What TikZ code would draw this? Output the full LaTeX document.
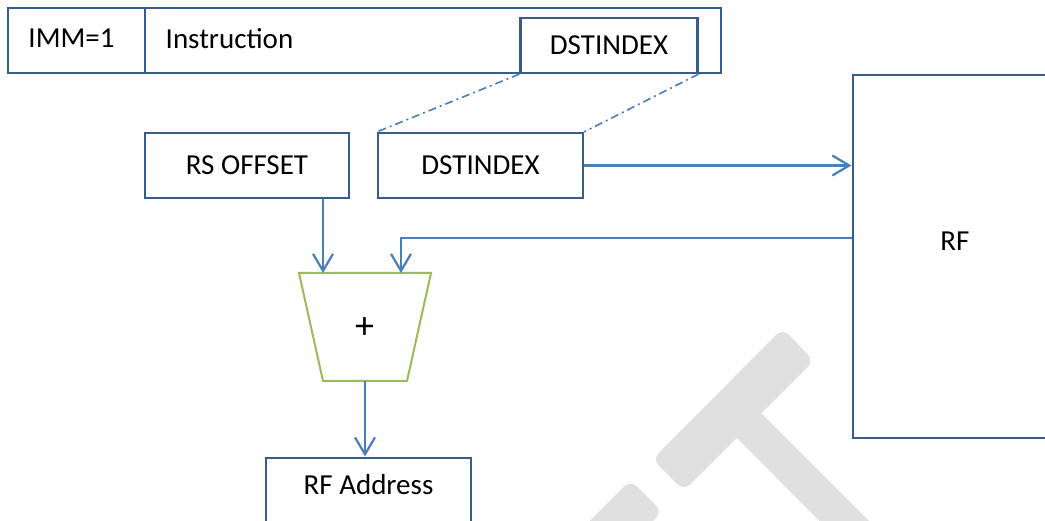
\documentclass[tikz,border=0pt]{standalone}
\usepackage{fontspec}
\setmainfont{Carlito}
\usetikzlibrary{arrows.meta,calc}
\definecolor{boxblue}{RGB}{56,93,138}
\definecolor{arrblue}{RGB}{74,126,187}
\definecolor{addgreen}{RGB}{155,187,89}
\definecolor{wmgray}{RGB}{224,224,224}
\tikzset{
  boxnode/.style={draw=boxblue, line width=2.2pt, fill=white, inner sep=0pt, rectangle},
  txt/.style={inner sep=0pt, font=\fontsize{29}{35}\selectfont},
  arr/.style={draw=arrblue, line width=2.2pt, -{Straight Barb[length=17pt,width=20pt,line width=2.2pt]}},
  dashdotline/.style={draw=arrblue, line width=1.6pt, dash pattern=on 8pt off 4pt on 2pt off 4pt},
  wm/.style={fill=wmgray, draw=none, rounded corners=9pt}
}
\begin{document}
\begin{tikzpicture}[x=1pt,y=-1pt]
\useasboundingbox (0,0) rectangle (1045,521);
\clip (0,0) rectangle (1045,521);
\fill[white] (0,0) rectangle (1045,521);
% watermark
\fill[wm] (782.7,328.3) -- (814,361) -- (684,490.7) -- (652.3,459.3) -- cycle;
\fill[wmgray] (752,404) -- (888,540) -- (838.4,540) -- (728,429) -- cycle;
\fill[wm] (630.7,480) -- (662.3,511.7) -- (614,560) -- (550.7,560) -- cycle;
% instruction word
\node[boxnode, minimum width=713, minimum height=65] (instr) at (364.5,40.5) {};
\node[boxnode, minimum width=137, minimum height=65] (imm) at (76.5,40.5) {};
\node[txt] (immtxt) at (71.5,38.5) {IMM=1};
\node[txt, anchor=west] (instrtxt) at (165.5,38.5) {Instruction};
\node[boxnode, minimum width=177, minimum height=55, txt] (dst1) at (609,45.5) {DSTINDEX};
% fields
\node[boxnode, minimum width=204, minimum height=65, txt] (rsoff) at (247,165.5) {RS OFFSET};
\node[boxnode, minimum width=205, minimum height=65, txt] (dst2) at (480.5,165.5) {DSTINDEX};
% RF
\node[boxnode, minimum width=260, minimum height=363, anchor=north west] (rf) at (851.5,74) {};
\node[txt] (rftxt) at (955,241) {RF};
% adder
\coordinate (addtl) at (299,273);
\coordinate (addtr) at (431,273);
\coordinate (addbr) at (407,381);
\coordinate (addbl) at (323,381);
\draw[addgreen, line width=2pt, fill=white] (addtl) -- (addtr) -- (addbr) -- (addbl) -- cycle;
\node[txt, font=\fontsize{38}{40}\selectfont] (add) at (364.5,328) {+};
\coordinate (addin1) at (323,273);
\coordinate (addin2) at (401,273);
\coordinate (addout) at (365,381);
% RF address
\node[boxnode, minimum width=205, minimum height=90, anchor=north] (rfa) at (368.5,456.5) {};
\node[txt] (rfatxt) at (368.5,485) {RF Address};
% connectors
\draw[dashdotline] (dst1.south west) -- (dst2.north west);
\draw[dashdotline] (dst1.south east) -- (dst2.north east);
\draw[arr] (dst2.east) -- (dst2.east -| rf.west);
\coordinate (fbstart) at (rf.west |- 0,238);
\draw[arr] (fbstart) -| (addin2);
\draw[arr] (rsoff.south -| addin1) -- (addin1);
\draw[arr] (addout) -- (rfa.north -| addout);
\end{tikzpicture}
\end{document}
